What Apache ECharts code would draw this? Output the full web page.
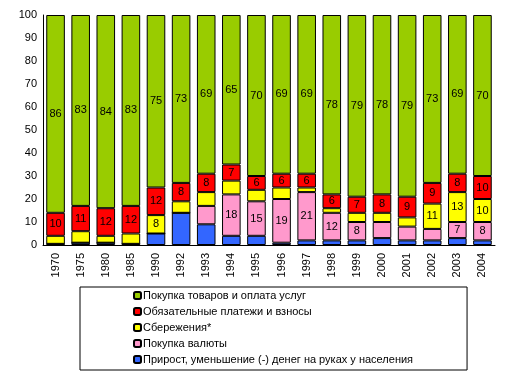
<!DOCTYPE html>
<html><head><meta charset="utf-8">
<script src="https://cdn.jsdelivr.net/npm/echarts@6/dist/echarts.min.js"></script>
<style>html,body{margin:0;padding:0;background:#fff}#c{width:512px;height:375px}</style>
</head><body><div id="c"></div>
<script>
const categories = ['1970','1975','1980','1985','1990','1992','1993','1994','1995','1996','1997','1998','1999','2000','2001','2002','2003','2004'];
const cash     = [0.5, 1, 1, 0.5, 5, 14, 9, 4, 4, 1, 2, 2, 2, 3, 2, 2, 3, 2];
const currency = [0, 0, 0, 0, 0, 0, 8, 18, 15, 19, 21, 12, 8, 7, 6, 5, 7, 8];
const savings  = [3.5, 5, 3, 4.5, 8, 5, 6, 6, 5, 5, 2, 2, 4, 4, 4, 11, 13, 10];
const payments = [10, 11, 12, 12, 12, 8, 8, 7, 6, 6, 6, 6, 7, 8, 9, 9, 8, 10];
const goods    = [86, 83, 84, 83, 75, 73, 69, 65, 70, 69, 69, 78, 79, 78, 79, 73, 69, 70];
const cashLabeled     = categories.map(() => false);
const currencyLabeled = [false,false,false,false,false,false,false,true,true,true,true,true,true,false,false,false,true,true];
const savingsLabeled  = [false,false,false,false,true,false,false,false,false,false,false,false,false,false,false,true,true,true];
const payLabeled      = categories.map(() => true);
const goodsLabeled    = categories.map(() => true);
const names = ['Прирост, уменьшение (-) денег на руках у населения','Покупка валюты','Сбережения*','Обязательные платежи и взносы','Покупка товаров и оплата услуг'];
const colors = ['#3366ff','#ff99cc','#ffff00','#ff0000','#99cc00'];
const values = [cash, currency, savings, payments, goods];
const labeled = [cashLabeled, currencyLabeled, savingsLabeled, payLabeled, goodsLabeled];
const FONT = 'Liberation Sans, Arial, sans-serif';
const series = values.map((arr, s) => ({
  name: names[s], type: 'bar', stack: 'all', barWidth: '74%',
  itemStyle: {color: colors[s], borderColor: '#000', borderWidth: 1},
  data: arr.map((v, i) => ({value: v, label: {show: labeled[s][i]}})),
  label: {position: 'inside', color: '#000', fontFamily: FONT, fontSize: 11, formatter: p => Math.round(p.value)}
}));
const chart = echarts.init(document.getElementById('c'));
chart.setOption({
  animation: false,
  textStyle: {fontFamily: FONT},
  grid: {left: 43, right: 17, top: 15, bottom: 130},
  xAxis: {type: 'category', data: categories,
    axisLine: {lineStyle: {color: '#000', width: 1}}, axisTick: {show: false},
    axisLabel: {rotate: 90, color: '#000', fontSize: 11, fontFamily: FONT, margin: 8, interval: 0}},
  yAxis: {type: 'value', min: 0, max: 100, interval: 10,
    axisLine: {show: true, lineStyle: {color: '#000', width: 1}}, axisTick: {show: false},
    splitLine: {show: false},
    axisLabel: {color: '#000', fontSize: 11, fontFamily: FONT, margin: 6}},
  legend: {orient: 'vertical', left: 80, top: 287, padding: [3, 54, 5, 53],
    borderColor: '#000', borderWidth: 1, borderRadius: 0,
    itemWidth: 7, itemHeight: 7, itemGap: 5,
    data: names.slice().reverse(),
    textStyle: {color: '#000', fontSize: 11, fontFamily: FONT, padding: [0,0,0,-3]}},
  series
});
</script></body></html>
